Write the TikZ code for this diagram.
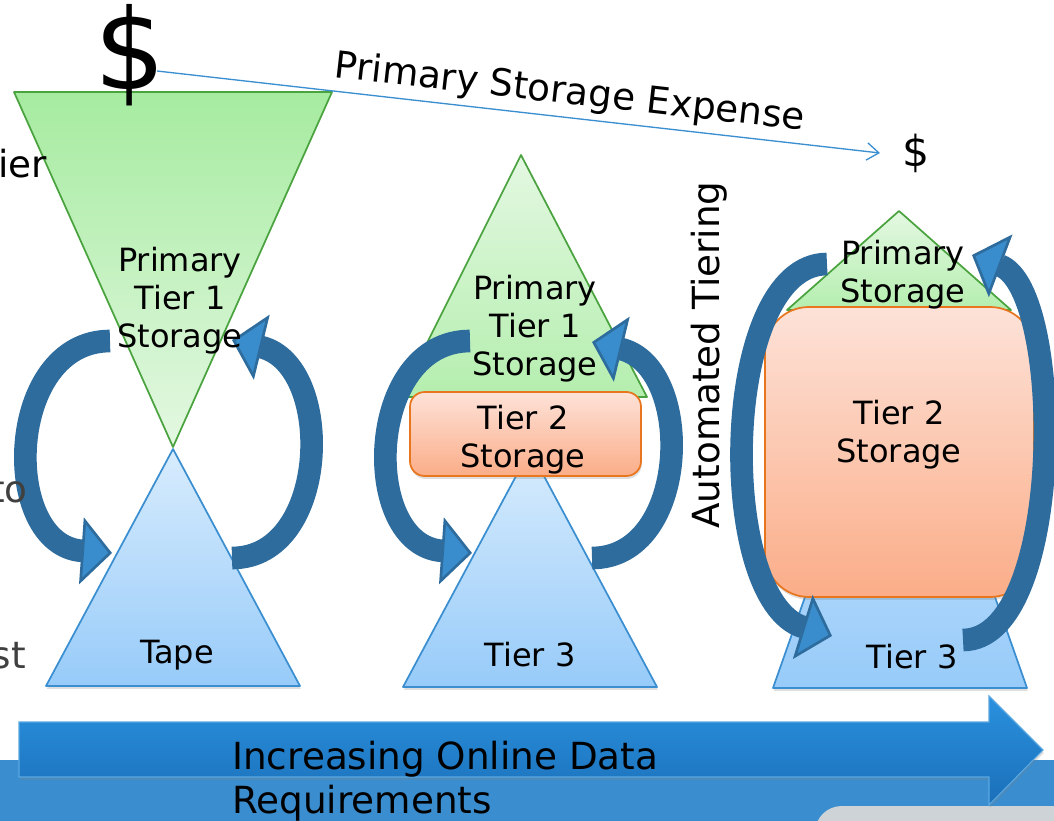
\documentclass[tikz,border=0pt]{standalone}
\usepackage{fontspec}
\setmainfont{DejaVu Sans}
\usetikzlibrary{arrows.meta,shadows}
\definecolor{grDark}{HTML}{A6EBA0}
\definecolor{grLight}{HTML}{E4F8E2}
\definecolor{grMid}{HTML}{B4EEAE}
\definecolor{grEdge}{HTML}{4AA33F}
\definecolor{blTop}{HTML}{D8ECFD}
\definecolor{blBot}{HTML}{97CBF9}
\definecolor{blEdge}{HTML}{3B8FD1}
\definecolor{orTop}{HTML}{FDE2D8}
\definecolor{orBot}{HTML}{FBAD88}
\definecolor{orEdge}{HTML}{E8761F}
\definecolor{arrDark}{HTML}{2D6C9D}
\definecolor{arrLight}{HTML}{3A8DCC}
\definecolor{bandBlue}{HTML}{3A8ECF}
\definecolor{bigTop}{HTML}{2A91DF}
\definecolor{bigBot}{HTML}{1B6FB8}
\definecolor{bigEdge}{HTML}{5AA8E2}
\definecolor{greyShape}{HTML}{CDD3D6}
\definecolor{fragGrey}{HTML}{404040}
\definecolor{lineBlue}{HTML}{3A8FD0}
\begin{document}
\begin{tikzpicture}[x=0.75pt,y=-0.75pt,
  shad/.style={drop shadow={opacity=0.25,shadow xshift=0.6pt,shadow yshift=-2.2pt}},
  greeninv/.style={draw=grEdge,line width=1.3pt,line join=round,top color=grDark,bottom color=grLight},
  greenup/.style={draw=grEdge,line width=1.3pt,line join=round,top color=grLight,bottom color=grMid},
  bluetri/.style={draw=blEdge,line width=1.3pt,line join=round,top color=blTop,bottom color=blBot,shad},
  orbox/.style={draw=orEdge,line width=1.3pt,top color=orTop,bottom color=orBot,shad},
  curvarr/.style={draw=arrDark,line width=17pt,-{Triangle[length=23pt,width=50pt,line width=2pt,fill=arrLight]}},
  lbl/.style={font=\fontsize{24}{28.5}\selectfont,align=center,text=black,inner sep=0pt},
  big/.style={font=\fontsize{28}{34}\selectfont,inner sep=0pt},
  expline/.style={draw=lineBlue,line width=1pt,-{Straight Barb[length=9pt,width=13pt,line width=1pt]}},
  bigarrow/.style={draw=bigEdge,line width=0.8pt,top color=bigTop,bottom color=bigBot,shad}
]
\useasboundingbox (0,0) rectangle (1054,821);
\clip (0,0) rectangle (1054,821);

% background band and grey corner
\fill[bandBlue] (0,760) rectangle (1054,821);
\fill[greyShape,rounded corners=20pt] (815,860) -- (815,806) -- (1100,806) -- (1100,860) -- cycle;

% left group
\path[bluetri] (173,449) -- (300,686) -- (46,686) -- cycle;
\path[greeninv] (14,92) -- (332,92) -- (173,447) -- cycle;

% middle group
\path[greenup] (521,155) -- (647,397) -- (400,397) -- cycle;
\path[bluetri] (530,450) -- (657,687) -- (403,687) -- cycle;
\path[orbox,rounded corners=11pt] (410,392) rectangle (641,476);

% right group
\path[greenup] (899,211) -- (1011,310) -- (787,310) -- cycle;
\path[bluetri] (900,327) -- (1027,688) -- (773,688) -- cycle;
\path[orbox,rounded corners=33pt] (765,307) rectangle (1034,597);

% curved arrows
\coordinate (la1) at (110,341); \coordinate (la2) at (112,553);
\coordinate (ra1) at (232,558); \coordinate (ra2) at (232,340);
\draw[curvarr] (la1) .. controls (5,341) and (0,545) .. (la2);
\draw[curvarr] (ra1) .. controls (330,558) and (335,365) .. (ra2);
\coordinate (lb1) at (470,341); \coordinate (lb2) at (472,553);
\coordinate (rb1) at (592,558); \coordinate (rb2) at (592,342);
\draw[curvarr] (lb1) .. controls (365,341) and (360,545) .. (lb2);
\draw[curvarr] (rb1) .. controls (690,558) and (695,367) .. (rb2);
\coordinate (lc1) at (827,264); \coordinate (lc2) at (832,636);
\coordinate (rc1) at (963,640); \coordinate (rc2) at (972,255);
\draw[curvarr] (lc1) .. controls (720,264) and (715,600) .. (lc2);
\draw[curvarr] (rc1) .. controls (1065,640) and (1065,290) .. (rc2);

% labels in shapes
\node[lbl] (p1) at (180,301) {Primary\\Tier 1\\Storage};
\node[lbl] (tape) at (177,655) {Tape};
\node[lbl] (p2) at (535,329) {Primary\\Tier 1\\Storage};
\node[lbl] (t2a) at (523,440) {Tier 2\\Storage};
\node[lbl] (t3a) at (530,655) {Tier 3};
\node[lbl] (p3) at (903,275) {Primary\\Storage};
\node[lbl] (t2b) at (899,435) {Tier 2\\Storage};
\node[lbl] (t3b) at (912,657) {Tier 3};

% dollars and expense line
\node[inner sep=0pt,font=\fontsize{84}{84}\selectfont] (dA) at (130,55) {\$};
\node[inner sep=0pt,font=\fontsize{32}{32}\selectfont] (dB) at (916,153) {\$};
\coordinate (eS) at (157,71);
\coordinate (eE) at (880,153);
\draw[expline] (eS) -- node[big,sloped,above=4pt,pos=0.567] (expL) {Primary Storage Expense} (eE);

% rotated label
\node[big,rotate=90] (auto) at (709,355) {Automated Tiering};

% cut-off fragments at left edge
\node[big,anchor=base east] (fr1) at (47,177) {ier};
\node[big,anchor=base east,text=fragGrey] (fr2) at (28,502) {to};
\node[big,anchor=base east,text=fragGrey] (fr3) at (26,668) {st};

% big bottom arrow
\path[bigarrow] (19,722) -- (989,722) -- (989,696) -- (1043,750) -- (989,805) -- (989,777) -- (19,777) -- cycle;
\node[big,anchor=base west] (inc1) at (232,769) {Increasing Online Data};
\node[big,anchor=base west] (inc2) at (232,813) {Requirements};
\end{tikzpicture}
\end{document}
